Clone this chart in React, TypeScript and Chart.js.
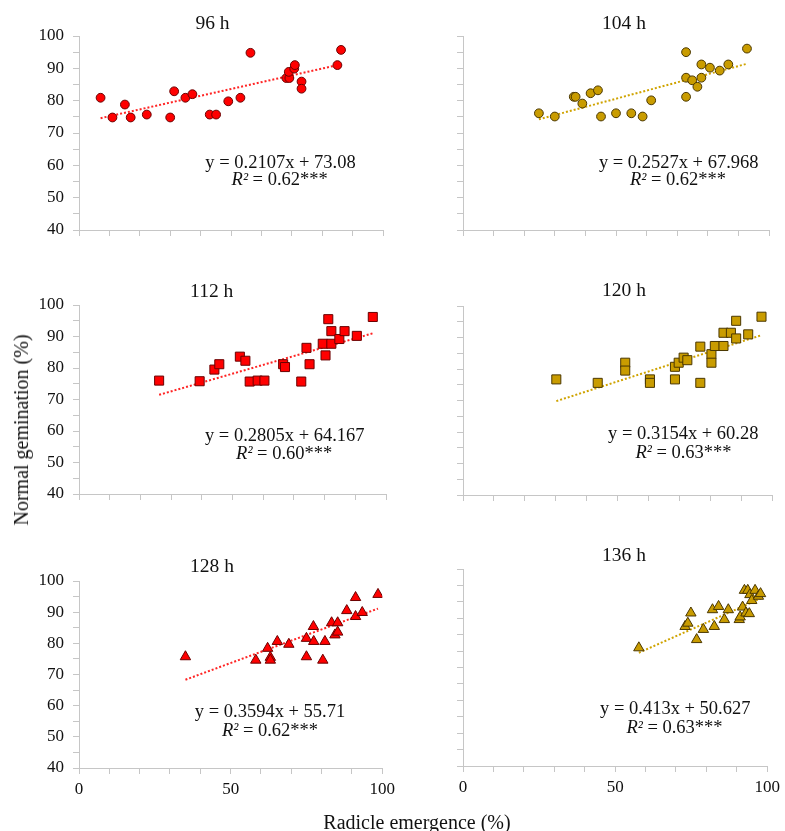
import React, { useEffect, useRef } from 'react';
import { Chart, registerables } from 'chart.js';

Chart.register(...registerables);

const FONT = "'Liberation Serif', 'Times New Roman', serif";

// ---------- data ----------
const panelTitles = ['96 h', '104 h', '112 h', '120 h', '128 h', '136 h'];
const slopes = [0.2107, 0.2527, 0.2805, 0.3154, 0.3594, 0.413];
const intercepts = [73.08, 67.968, 64.167, 60.28, 55.71, 50.627];
const slopeLabels = ['0.2107', '0.2527', '0.2805', '0.3154', '0.3594', '0.413'];
const interceptLabels = ['73.08', '67.968', '64.167', '60.28', '55.71', '50.627'];
const r2Labels = ['0.62***', '0.62***', '0.60***', '0.63***', '0.62***', '0.63***'];

const x96 = [7.1, 11.0, 15.1, 17.0, 22.3, 30.0, 31.3, 35.0, 37.3, 43.0, 45.1, 49.1, 53.1, 56.4, 68.2, 69.2, 69.0, 70.8, 71.0, 73.2, 73.2, 85.0, 86.2];
const y96 = [80.9, 74.8, 78.8, 74.8, 75.7, 74.8, 82.9, 80.9, 82.0, 75.7, 75.7, 79.8, 80.9, 94.8, 87.0, 87.0, 88.9, 89.9, 91.0, 85.9, 83.7, 91.0, 95.7];

const x104 = [24.8, 30.0, 36.2, 36.8, 39.0, 41.7, 44.1, 45.1, 50.0, 55.0, 58.7, 61.5, 72.9, 72.9, 72.9, 74.9, 76.6, 77.9, 77.9, 80.7, 83.9, 86.7, 92.8];
const y104 = [76.1, 75.1, 81.2, 81.2, 79.1, 82.3, 83.2, 75.1, 76.1, 76.1, 75.1, 80.1, 95.0, 87.1, 81.2, 86.3, 84.3, 87.1, 91.2, 90.2, 89.3, 91.2, 96.1];

const x112 = [26.1, 39.3, 44.1, 45.7, 52.4, 54.2, 55.6, 58.2, 60.4, 66.5, 67.1, 72.4, 74.1, 75.1, 79.4, 80.3, 81.2, 82.2, 82.2, 84.8, 86.5, 90.5, 95.7];
const y112 = [76.0, 75.8, 79.5, 81.2, 83.6, 82.3, 75.7, 76.0, 76.0, 81.2, 80.3, 75.7, 86.4, 81.2, 87.7, 84.0, 95.5, 87.7, 91.7, 89.2, 91.7, 90.2, 96.2];

const x120 = [30.2, 43.6, 52.5, 52.5, 60.5, 60.5, 68.6, 68.6, 69.8, 71.4, 72.6, 76.8, 76.8, 80.4, 80.4, 81.5, 84.3, 84.3, 86.7, 88.4, 88.4, 92.3, 96.6];
const y120 = [76.7, 75.6, 82.0, 79.5, 76.7, 75.6, 76.7, 80.7, 82.0, 83.6, 82.8, 87.1, 75.6, 84.7, 82.0, 87.3, 91.5, 87.3, 91.5, 95.3, 89.7, 91.0, 96.6];

const x128 = [35.1, 58.3, 62.2, 63.1, 63.1, 65.4, 69.2, 75.0, 75.0, 77.4, 77.3, 80.4, 81.1, 83.3, 85.3, 84.4, 85.3, 88.3, 91.2, 91.2, 93.4, 98.6];
const y128 = [75.7, 74.6, 78.4, 75.5, 74.6, 80.6, 79.7, 81.6, 75.7, 80.6, 85.4, 74.6, 80.6, 86.6, 86.6, 82.7, 83.6, 90.5, 94.7, 88.6, 89.9, 95.7];

const x136 = [57.8, 73.0, 73.9, 74.9, 76.8, 79.0, 82.0, 82.6, 84.0, 85.9, 87.2, 90.8, 91.1, 91.9, 92.5, 93.0, 93.6, 94.1, 94.3, 94.9, 96.0, 97.1, 97.8];
const y136 = [76.0, 82.5, 83.5, 86.6, 78.5, 81.6, 87.6, 82.5, 88.6, 84.6, 87.6, 84.6, 85.4, 88.4, 93.5, 86.6, 93.5, 86.4, 92.2, 90.4, 93.5, 91.7, 92.5];

const xValues = [x96, x104, x112, x120, x128, x136];
const yValues = [y96, y104, y112, y120, y128, y136];

const xTickLabels = [0, 50, 100];
const yTickLabels = [40, 50, 60, 70, 80, 90, 100];

// ---------- styles / layout ----------
const RED = { fill: '#FF0000', border: '#6a0000', trend: '#FF2424' };
const GOLD = { fill: '#C99C00', border: '#4a3700', trend: '#CFA300' };
const AXIS = '#C6C6C6';

const panelStyles = [
  { c: RED, shape: 'circle', r: 4.4 },
  { c: GOLD, shape: 'circle', r: 4.4 },
  { c: RED, shape: 'rect', r: 6.4 },
  { c: GOLD, shape: 'rect', r: 6.4 },
  { c: RED, shape: 'triangle', r: 6 },
  { c: GOLD, shape: 'triangle', r: 6 },
];

const layouts = [
  { cl: 0, ct: 0, cw: 400, ch: 250, caL: 79, caT: 36, caR: 383, caB: 230, tx: 212.5, ty: 23.5, ex: 280.5, ey: 162.7, rx: 279.7, ry: 180.5, showY: true, showX: false },
  { cl: 384, ct: 0, cw: 401, ch: 250, caL: 463, caT: 36, caR: 769, caB: 230, tx: 624, ty: 23.5, ex: 678.7, ey: 162.7, rx: 678, ry: 180.5, showY: false, showX: false },
  { cl: 0, ct: 262, cw: 400, ch: 258, caL: 79, caT: 305, caR: 386, caB: 494, tx: 211.7, ty: 291.5, ex: 284.8, ey: 435.7, rx: 284.2, ry: 454, showY: true, showX: false },
  { cl: 384, ct: 262, cw: 401, ch: 258, caL: 463, caT: 306, caR: 772, caB: 495, tx: 624, ty: 291, ex: 683.3, ey: 434.3, rx: 683.5, ry: 452.7, showY: false, showX: false },
  { cl: 0, ct: 530, cw: 400, ch: 301, caL: 79, caT: 581, caR: 383, caB: 768, tx: 212, ty: 567, ex: 270, ey: 711.7, rx: 270, ry: 730.7, showY: true, showX: true },
  { cl: 384, ct: 530, cw: 401, ch: 301, caL: 463, caT: 569, caR: 769, caB: 766, tx: 624, ty: 555.5, ex: 675.3, ey: 709.3, rx: 674.5, ry: 728.3, showY: false, showX: true },
];

const textPlugin = {
  id: 'panelText',
  afterDraw(chart: any, _args: any, opts: any) {
    const ctx = chart.ctx as CanvasRenderingContext2D;
    ctx.save();
    ctx.fillStyle = '#111';
    ctx.textBaseline = 'middle';
    ctx.textAlign = 'center';
    ctx.font = `19.5px ${FONT}`;
    ctx.fillText(opts.title, opts.tx, opts.ty);
    ctx.font = `18.5px ${FONT}`;
    ctx.fillText(opts.eq, opts.ex, opts.ey);
    const parts = [
      { t: 'R', f: `italic 18.5px ${FONT}` },
      { t: '²', f: `italic 17px ${FONT}` },
      { t: ' = ' + opts.r2, f: `18.5px ${FONT}` },
    ];
    let total = 0;
    const widths = parts.map((p) => {
      ctx.font = p.f;
      const w = ctx.measureText(p.t).width;
      total += w;
      return w;
    });
    let x = opts.rx - total / 2;
    ctx.textAlign = 'left';
    parts.forEach((p, i) => {
      ctx.font = p.f;
      ctx.fillText(p.t, x, opts.ry);
      x += widths[i];
    });
    ctx.restore();
  },
};

function Panel({ idx }: { idx: number }) {
  const ref = useRef<HTMLCanvasElement>(null);
  const L = layouts[idx];
  useEffect(() => {
    const st = panelStyles[idx];
    const xs = xValues[idx];
    const ys = yValues[idx];
    const pts = xs.map((x, i) => ({ x, y: ys[i] }));
    const xmin = Math.min(...xs);
    const xmax = Math.max(...xs);
    const trend = [
      { x: xmin, y: slopes[idx] * xmin + intercepts[idx] },
      { x: xmax, y: slopes[idx] * xmax + intercepts[idx] },
    ];
    const chart = new Chart(ref.current as HTMLCanvasElement, {
      type: 'scatter',
      data: {
        datasets: [
          {
            data: pts,
            pointStyle: st.shape as any,
            pointRadius: st.r,
            backgroundColor: st.c.fill,
            borderColor: st.c.border,
            borderWidth: 1,
          },
          {
            data: trend,
            showLine: true,
            pointRadius: 0,
            borderColor: st.c.trend,
            borderWidth: 2,
            borderDash: [2, 2],
            fill: false,
          } as any,
        ],
      },
      options: {
        responsive: false,
        animation: false,
        layout: { padding: { left: 0, top: L.caT - L.ct, right: L.cl + L.cw - L.caR, bottom: 0 } },
        plugins: {
          legend: { display: false },
          tooltip: { enabled: false },
          panelText: {
            title: panelTitles[idx],
            eq: `y = ${slopeLabels[idx]}x + ${interceptLabels[idx]}`,
            r2: r2Labels[idx],
            tx: L.tx - L.cl, ty: L.ty - L.ct,
            ex: L.ex - L.cl, ey: L.ey - L.ct,
            rx: L.rx - L.cl, ry: L.ry - L.ct,
          },
        } as any,
        scales: {
          x: {
            type: 'linear',
            min: 0,
            max: 100,
            afterFit: (s: any) => { s.height = L.ct + L.ch - L.caB; },
            ticks: {
              stepSize: 10,
              autoSkip: false,
              maxRotation: 0,
              padding: 5,
              color: '#111',
              font: { family: FONT, size: 17 },
              callback: (v: any) => (L.showX && xTickLabels.includes(Number(v)) ? String(v) : ''),
            },
            grid: { display: true, drawOnChartArea: false, drawTicks: true, tickLength: 6, color: AXIS, lineWidth: 1 },
            border: { display: true, color: AXIS, width: 1 },
          },
          y: {
            type: 'linear',
            min: 40,
            max: 100,
            afterFit: (s: any) => { s.width = L.caL - L.cl; },
            ticks: {
              stepSize: 5,
              autoSkip: false,
              padding: 9,
              color: '#111',
              font: { family: FONT, size: 17 },
              callback: (v: any) => (L.showY && yTickLabels.includes(Number(v)) ? String(v) : ''),
            },
            grid: { display: true, drawOnChartArea: false, drawTicks: true, tickLength: 6, color: AXIS, lineWidth: 1 },
            border: { display: true, color: AXIS, width: 1 },
          },
        },
      } as any,
      plugins: [textPlugin as any],
    });
    return () => chart.destroy();
  }, [idx]);
  return (
    <canvas
      ref={ref}
      width={L.cw}
      height={L.ch}
      style={{ position: 'absolute', left: L.cl, top: L.ct, width: L.cw, height: L.ch }}
    />
  );
}

export default function App() {
  return (
    <div style={{ position: 'absolute', left: 0, top: 0, width: 785, height: 831, background: '#fff', overflow: 'hidden', fontFamily: FONT }}>
      {[0, 1, 2, 3, 4, 5].map((i) => (
        <Panel key={i} idx={i} />
      ))}
      <div
        style={{
          position: 'absolute', left: 21, top: 430, transform: 'translate(-50%, -50%) rotate(-90deg)',
          whiteSpace: 'nowrap', fontSize: 20, color: '#111', lineHeight: 1,
        }}
      >
        Normal gemination (%)
      </div>
      <div
        style={{
          position: 'absolute', left: 417, top: 822, transform: 'translate(-50%, -50%)',
          whiteSpace: 'nowrap', fontSize: 20, color: '#111', lineHeight: 1,
        }}
      >
        Radicle emergence (%)
      </div>
    </div>
  );
}
